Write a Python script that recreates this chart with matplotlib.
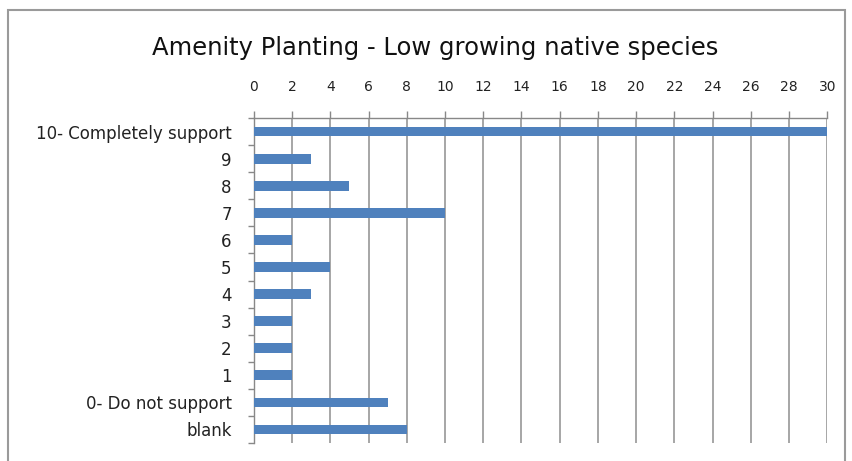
import matplotlib.pyplot as plt
import matplotlib.patches as patches
import numpy as np

categories = ['10- Completely support', '9', '8', '7', '6', '5', '4', '3', '2', '1',
              '0- Do not support', 'blank']
counts = [30, 3, 5, 10, 2, 4, 3, 2, 2, 2, 7, 8]
x_ticks = list(range(0, 31, 2))

plt.rcParams['font.family'] = ['DejaVu Sans']

fig = plt.figure(figsize=(8.52, 4.61), dpi=100)
ax = fig.add_axes([0.298, 0.039, 0.673, 0.705])

y = np.arange(len(categories))
ax.barh(y, counts, height=0.36, color='#4F81BD', zorder=3)

ax.set_ylim(len(categories) - 0.5, -0.5)
ax.set_xlim(0, 30)
ax.xaxis.tick_top()
ax.set_xticks(x_ticks)
ax.set_xticklabels([str(v) for v in x_ticks], fontsize=10, color='#222222')
ax.tick_params(axis='x', length=5, width=1, color='#888888', pad=12)
ax.grid(axis='x', color='#a6a6a6', linewidth=1.4, zorder=0)

ax.set_yticks(y)
ax.set_yticklabels(categories, fontsize=12, color='#222222')
ax.set_yticks(np.arange(len(categories) + 1) - 0.5, minor=True)
ax.tick_params(axis='y', which='major', length=0, pad=16)
ax.tick_params(axis='y', which='minor', length=4, width=1, color='#888888')

for side in ['right', 'bottom']:
    ax.spines[side].set_visible(False)
for side in ['top', 'left']:
    ax.spines[side].set_color('#888888')
    ax.spines[side].set_linewidth(1)

fig.text(0.511, 0.895, 'Amenity Planting - Low growing native species',
         ha='center', va='center', fontsize=17.5, color='#111111')

fig.patches.append(patches.Rectangle((8 / 852, -0.05), 837 / 852, 1 - 10 / 461 + 0.05,
                                     transform=fig.transFigure, fill=False,
                                     edgecolor='#9a9a9a', linewidth=1.5))

fig.savefig('out.png', dpi=100)
